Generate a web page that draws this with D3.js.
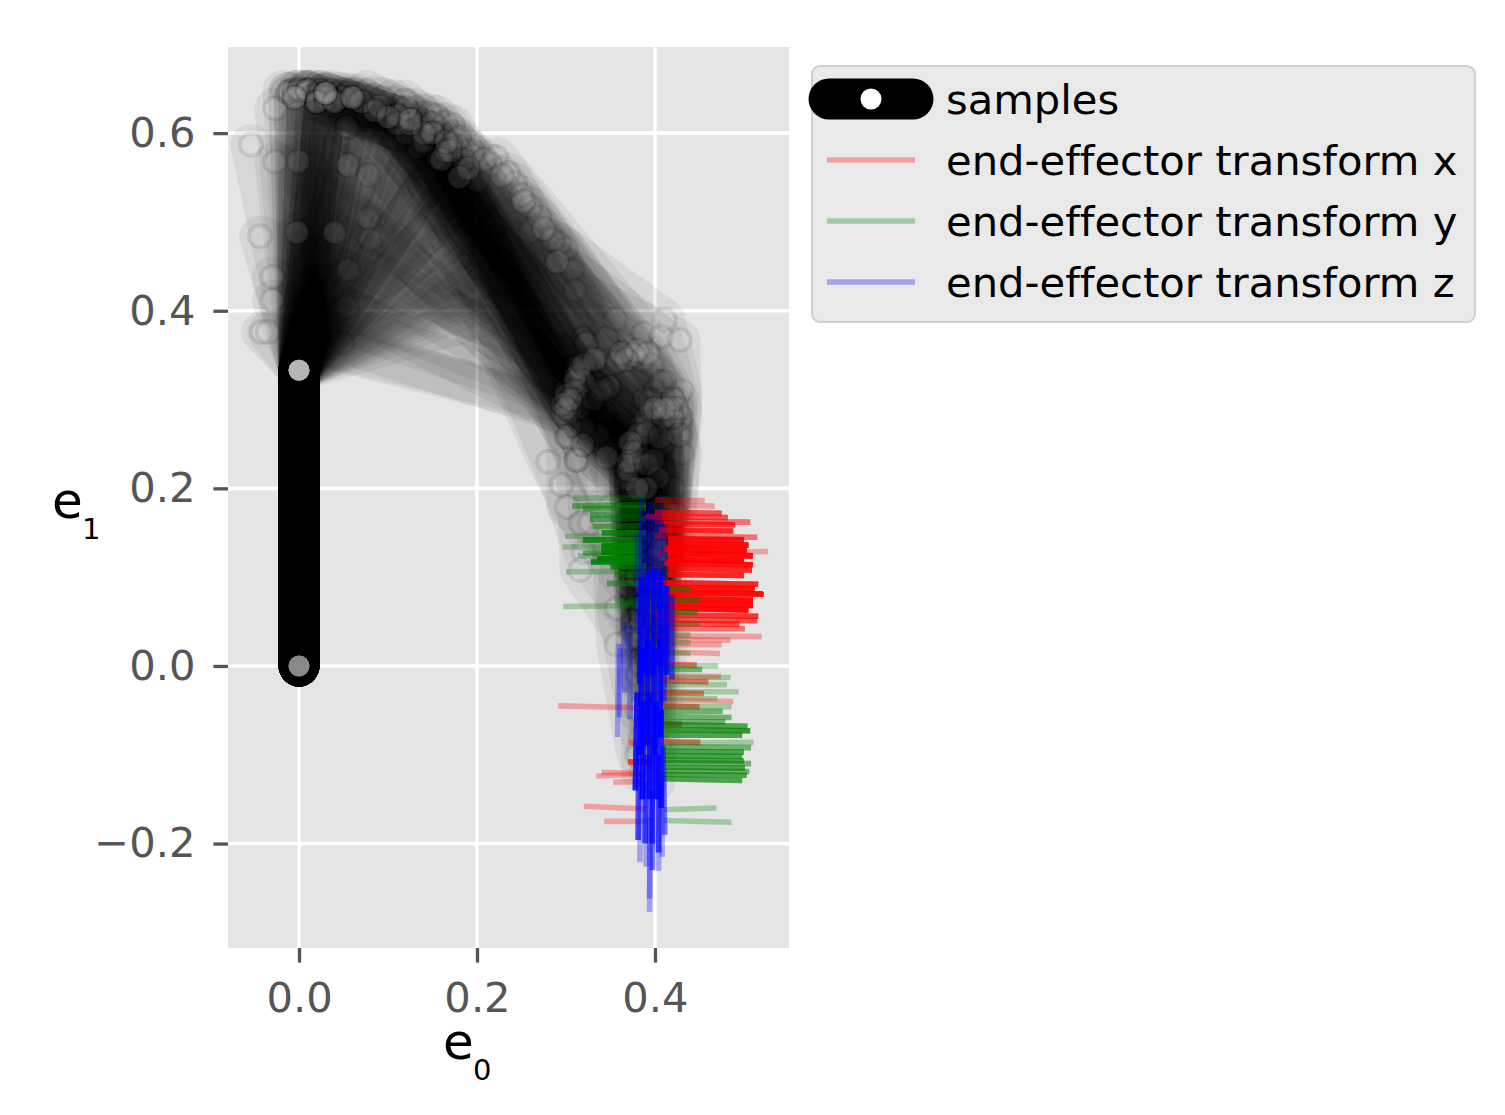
<!DOCTYPE html>
<html><head><meta charset="utf-8">
<script src="https://cdn.jsdelivr.net/npm/d3@7/dist/d3.min.js"></script>
<style>html,body{margin:0;background:#fff}svg{display:block}text{font-family:"DejaVu Sans";font-variant-ligatures:none}</style>
</head><body><svg id="c" width="1505" height="1115"></svg>
<script>
// arm rows: elbowX, elbowY, wristX, wristY, knuckleX, knuckleY, handX, handY, repeats, optional offsetElbowX, offsetElbowY
const topRows=[
[-.018,.648,.310,.337,.385,.29,.39,.16,1,.07,.615],[-.012,.646,.316,.322,.39,.27,.395,.14,2,.075,.62],[-.005,.648,.301,.296,.375,.25,.385,.12,1,.085,.62],
[0,.649,.319,.370,.40,.31,.40,.17,2,.09,.625],[.004,.647,.323,.364,.395,.30,.405,.15,1,.095,.62],[.009,.648,.305,.287,.38,.23,.39,.09,2,.10,.615],
[.015,.649,.330,.294,.40,.24,.40,.11,1,.105,.615],[.024,.648,.349,.314,.41,.25,.41,.13,2,.11,.62],[.030,.647,.338,.262,.395,.20,.385,.07,1,.115,.61],
[.037,.648,.344,.285,.40,.22,.40,.08,1,.12,.61],[.046,.646,.357,.342,.42,.27,.41,.15,1,.13,.615],[.055,.645,.310,.337,.38,.27,.39,.13,1,.135,.61],
[.063,.644,.316,.322,.385,.26,.395,.10,1,.14,.605],[.076,.648,.301,.296,.37,.23,.385,.06,1,.15,.61],[.084,.642,.305,.287,.375,.22,.39,.03,1,.155,.60],
[.094,.640,.319,.249,.385,.18,.395,0,1,.16,.60],[.105,.638,.302,.258,.375,.20,.39,.05,1,.165,.595],[.119,.637,.312,.232,.38,.17,.385,-.02,1,.17,.59],
[.130,.628,.330,.294,.395,.23,.40,.04,1,.18,.585],[.139,.622,.338,.262,.40,.19,.405,-.03,1,.19,.58],[.147,.622,.344,.285,.405,.21,.40,.02,1,.195,.575],
[.155,.620,.310,.337,.385,.28,.395,.12,1],[.165,.612,.323,.364,.395,.30,.40,.14,1],[.173,.609,.349,.314,.41,.25,.405,.09,1],
[.177,.592,.357,.342,.42,.28,.41,.11,1]];
const arcRows=[
[.200,.547,.389,.300,.41,.22,.40,-.05,1],[.222,.573,.387,.375,.425,.30,.41,.16,1],[.243,.544,.397,.339,.425,.26,.405,.12,1],
[.260,.517,.406,.320,.43,.24,.41,.08,1],[.260,.489,.396,.286,.42,.20,.40,.03,1],[.293,.476,.411,.390,.43,.31,.415,.17,1],
[.307,.446,.407,.371,.43,.29,.41,.14,1],[.310,.423,.428,.367,.43,.28,.41,.13,1],[.300,.470,.355,.390,.41,.32,.405,.18,1],
[.215,.565,.346,.369,.41,.30,.40,.15,1],[.235,.555,.391,.262,.41,.18,.39,-.02,1],[.250,.530,.406,.257,.42,.17,.40,-.06,1],
[.270,.505,.428,.260,.425,.17,.405,-.09,1],[.285,.480,.398,.232,.41,.15,.395,-.07,1],[.195,.580,.403,.212,.41,.13,.39,-.10,1],
[.208,.570,.391,.227,.40,.14,.385,-.08,1],[.150,.611,.386,.345,.42,.28,.405,.13,1],[.180,.595,.376,.350,.415,.29,.40,.12,1],
[.228,.552,.368,.345,.41,.28,.395,.10,1],[.275,.492,.392,.352,.425,.29,.41,.11,1],[.290,.455,.380,.355,.42,.30,.405,.09,1],
[.252,.523,.362,.352,.41,.29,.40,.07,1],[.120,.628,.332,.345,.40,.29,.39,.09,1]];
const bandRows=[
[.01,.648,.306,.30,.375,.24,.39,.08,2,.054,.607],[.03,.640,.312,.296,.38,.23,.385,.04,2,.134,.584],[.05,.64,.320,.27,.385,.20,.39,.01,2,.155,.572],
[.02,.635,.304,.300,.375,.23,.385,.05,3,.120,.600],[.04,.635,.315,.290,.38,.22,.395,.02,3,.140,.590],[-.005,.64,.300,.310,.37,.25,.38,.07,2,.110,.610],
[.07,.635,.330,.300,.39,.23,.40,.06,2,.165,.580],[.06,.64,.320,.320,.385,.26,.395,.11,3,.150,.600],[.03,.645,.310,.320,.38,.26,.39,.10,3,.125,.615],
[.09,.63,.340,.310,.40,.24,.40,.10,1,.185,.570]];
const innerRows=[
[-.001,.568,.301,.296,.37,.23,.385,.06,1],[.055,.564,.305,.287,.375,.22,.39,.02,1],[.078,.553,.31,.30,.38,.23,.395,.04,1],
[-.027,.568,.312,.31,.38,.25,.39,.10,1],[.078,.504,.304,.27,.375,.20,.385,0,1],[.08,.48,.30,.29,.37,.22,.38,.03,1],
[-.002,.488,.315,.33,.39,.27,.395,.13,1],[.04,.488,.31,.31,.38,.25,.39,.09,1],[.055,.446,.306,.30,.375,.24,.39,.07,1],
[.054,.404,.30,.28,.37,.21,.385,.01,1],[.049,.364,.296,.285,.37,.22,.38,-.01,1],[-.027,.628,.31,.325,.385,.27,.39,.12,1],
[-.054,.587,.315,.335,.39,.28,.395,.14,1],[-.044,.484,.32,.34,.395,.29,.40,.16,1],[-.03,.438,.30,.305,.375,.24,.385,.06,1],
[-.03,.412,.305,.30,.38,.24,.39,.08,1],[-.042,.376,.30,.29,.375,.23,.385,.05,1],[-.035,.376,.296,.295,.37,.23,.38,.04,1]];
const lowRows=[
[.110,.620,.280,.230,.316,.161,.37,.09,1],[.125,.610,.295,.204,.320,.128,.375,.05,1],[.140,.600,.312,.232,.316,.108,.37,.03,1],
[.085,.625,.301,.258,.301,.179,.375,.12,1],[.10,.618,.319,.249,.327,.161,.38,.10,1],[.17,.58,.346,.235,.374,.144,.39,.07,1],
[.16,.57,.372,.252,.357,.065,.38,-.05,1],[.18,.55,.35,.18,.357,.024,.38,-.10,1],[.19,.56,.39,.20,.40,.05,.40,-.13,1],
[.165,.59,.38,.20,.385,.03,.385,-.12,1]];
// coordinate-frame rows: fromX, fromY, tipX, tipY, repeats
const redRows=[
[.40,.187,.456,.186,1],[.41,.181,.467,.180,1],[.40,.173,.475,.172,3],[.39,.168,.482,.167,3],[.40,.163,.507,.162,2],[.41,.160,.49,.159,4],
[.405,.153,.488,.152,5],[.40,.146,.515,.145,2],[.415,.143,.50,.142,7],[.415,.137,.505,.136,8],[.41,.132,.503,.130,8],[.40,.126,.527,.129,1],
[.415,.127,.51,.124,8],[.415,.120,.50,.118,8],[.41,.116,.51,.114,7],[.415,.110,.509,.108,5],[.415,.103,.50,.102,5],[.40,.094,.516,.092,5],
[.415,.088,.512,.087,7],[.415,.082,.522,.081,8],[.41,.076,.51,.074,8],[.415,.070,.51,.068,8],[.415,.065,.505,.063,8],[.40,.058,.516,.056,4],
[.41,.052,.515,.051,3],[.405,.048,.495,.047,3],[.41,.042,.501,.042,2],[.40,.034,.52,.033,1],[.41,.030,.485,.029,1],[.41,.024,.475,.024,1],
[.41,.016,.473,.014,1],[.405,.002,.447,.001,2],[.40,-.011,.474,-.012,1],[.41,-.017,.46,-.018,2],[.405,-.038,.488,-.040,1],[.40,-.030,.455,-.031,2],
[.41,-.045,.45,-.046,2],[.41,-.065,.43,-.066,3],[.41,-.085,.451,-.086,2],[.38,-.047,.291,-.045,1],[.385,-.122,.334,-.124,1],[.39,-.121,.34,-.120,1],
[.385,-.130,.353,-.131,1],[.39,-.161,.320,-.158,1],[.39,-.175,.343,-.175,1],[.395,-.108,.37,-.108,3],[.39,-.085,.37,-.086,1]];
const greenRows=[
[.39,.189,.308,.189,1],[.39,.182,.307,.180,2],[.39,.178,.319,.177,2],[.385,.172,.327,.170,2],[.39,.166,.327,.165,2],[.385,.158,.33,.157,2],
[.39,.150,.34,.15,4],[.39,.146,.299,.146,1],[.385,.142,.319,.142,5],[.385,.136,.34,.135,8],[.39,.134,.296,.134,1],[.385,.130,.34,.128,9],
[.385,.128,.319,.127,2],[.39,.124,.313,.124,1],[.385,.122,.335,.120,9],[.385,.118,.328,.117,6],[.39,.113,.35,.112,4],[.39,.107,.30,.106,1],
[.385,.103,.355,.103,2],[.385,.093,.346,.093,2],[.39,.075,.355,.074,1],[.385,.068,.297,.067,1],[.39,.071,.36,.070,1],
[.40,.087,.44,.086,2],[.40,.075,.45,.074,2],[.40,.062,.448,.06,2],[.40,.048,.45,.047,1],[.405,.035,.44,.035,1],[.41,.027,.44,.026,1],[.405,.015,.44,.014,1],
[.40,0,.471,0,1],[.40,-.004,.453,-.004,2],[.405,-.013,.485,-.013,1],[.40,-.021,.481,-.021,1],[.405,-.029,.494,-.029,1],[.40,-.036,.47,-.037,1],
[.405,-.046,.486,-.046,1],[.405,-.051,.476,-.051,2],[.405,-.057,.486,-.058,2],[.405,-.063,.479,-.063,2],[.41,-.066,.504,-.068,3],[.41,-.072,.507,-.073,4],
[.41,-.078,.498,-.078,3],[.41,-.087,.511,-.086,1],[.41,-.091,.508,-.092,2],[.41,-.096,.50,-.097,3],[.41,-.101,.498,-.102,3],[.41,-.106,.50,-.107,3],
[.41,-.109,.508,-.110,2],[.41,-.114,.501,-.115,3],[.41,-.118,.506,-.119,2],[.41,-.122,.503,-.123,3],[.41,-.127,.498,-.129,3],[.41,-.162,.469,-.160,1],[.41,-.174,.486,-.176,1]];
const blueRows=[
[.385,.19,.385,.09,1],[.395,.185,.395,.08,1],[.405,.18,.405,.085,1],[.39,.175,.39,.06,1],[.40,.17,.40,.07,1],[.385,.165,.385,.05,1],[.41,.16,.41,.05,1],[.38,.15,.38,.04,1],
[.385,.10,.383,-.02,5],[.392,.105,.39,-.01,5],[.399,.11,.398,-.01,5],[.406,.105,.406,0,5],[.413,.09,.413,-.01,4],[.419,.08,.419,-.015,2],
[.385,.02,.384,-.10,5],[.392,.03,.391,-.09,5],[.399,.02,.399,-.10,5],[.406,.03,.406,-.08,5],[.412,.05,.41,-.04,2],
[.38,-.03,.378,-.14,5],[.387,-.04,.386,-.15,5],[.394,-.03,.394,-.15,5],[.401,-.04,.401,-.15,5],[.407,-.05,.407,-.16,4],
[.382,-.09,.381,-.196,3],[.39,-.10,.389,-.20,3],[.397,-.10,.397,-.20,3],[.404,-.10,.404,-.21,3],[.409,-.09,.411,-.19,2],
[.384,-.12,.383,-.221,1],[.39,-.13,.39,-.226,1],[.397,-.14,.397,-.23,2],[.405,-.13,.404,-.231,1],[.408,-.12,.408,-.215,1],[.395,-.15,.394,-.262,1],[.394,-.17,.394,-.277,1],
[.361,.02,.36,-.058,1],[.359,.025,.358,-.08,1],[.365,.05,.366,-.03,1],[.372,.045,.372,-.06,1]];
const baseJoints=[[0,0],[0,.333],[0,.333]];
const xTicks=[0,.2,.4], yTicks=[-.2,0,.2,.4,.6];
const legendLabels=["samples","end-effector transform x","end-effector transform y","end-effector transform z"];
const frameColors=["#ff0000","#008000","#0000ff"];

const x=d3.scaleLinear().domain([-.0798,.5506]).range([228,789]);
const y=d3.scaleLinear().domain([.697,-.3176]).range([47,948]);
const svg=d3.select("#c");
svg.append("rect").attr("x",228).attr("y",47).attr("width",561).attr("height",901).attr("fill","#e5e5e5");
const grid=svg.append("g");
grid.selectAll(".gx").data(xTicks).join("line").attr("x1",d=>x(d)).attr("x2",d=>x(d)).attr("y1",47).attr("y2",948).attr("stroke","#fff").attr("stroke-width",3.6);
grid.selectAll(".gy").data(yTicks).join("line").attr("y1",d=>y(d)).attr("y2",d=>y(d)).attr("x1",228).attr("x2",789).attr("stroke","#fff").attr("stroke-width",3.6);

const expand=rows=>rows.flatMap(r=>d3.range(r[4]).map(()=>r));
const armRepeat=rows=>rows.flatMap(r=>d3.range(r[8]).map(()=>r));
const arms=armRepeat([...topRows,...bandRows,...innerRows,...arcRows,...lowRows]);
const line=d3.line().x(d=>x(d[0])).y(d=>y(d[1]));
const armG=svg.append("g");
arms.forEach(r=>{
  const pts=[...baseJoints,[r[0],r[1]]];
  if(r.length>9) pts.push([r[9],r[10]]);
  pts.push([r[2],r[3]],[r[4],r[5]],[r[6],r[7]]);
  const g=armG.append("g");
  g.append("path").attr("d",line(pts)).attr("fill","none").attr("stroke","#000").attr("stroke-opacity",.06)
   .attr("stroke-width",41).attr("stroke-linejoin","round").attr("stroke-linecap","round");
  g.selectAll("circle").data(pts).join("circle").attr("cx",d=>x(d[0])).attr("cy",d=>y(d[1]))
   .attr("r",(d,i)=>i<3?10.5:11)
   .attr("fill","#fff").attr("fill-opacity",(d,i)=>i<3?.07:.12)
   .attr("stroke","#000").attr("stroke-opacity",(d,i)=>i<3?0:.09).attr("stroke-width",4);
});
[redRows,greenRows,blueRows].forEach((rows,i)=>{
  svg.append("g").selectAll("line").data(expand(rows)).join("line")
    .attr("x1",d=>x(d[0])).attr("y1",d=>y(d[1])).attr("x2",d=>x(d[2])).attr("y2",d=>y(d[3]))
    .attr("stroke",frameColors[i]).attr("stroke-opacity",.3).attr("stroke-width",5.6);
});

const ax=svg.append("g").attr("transform","translate(0,948)").call(d3.axisBottom(x).tickValues(xTicks).tickFormat(d3.format(".1f")).tickSize(14.6).tickPadding(20));
const ay=svg.append("g").attr("transform","translate(228,0)").call(d3.axisLeft(y).tickValues(yTicks).tickFormat(d3.format(".1f")).tickSize(14.6).tickPadding(18));
[ax,ay].forEach(a=>{a.select(".domain").remove();a.selectAll("line").attr("stroke","#555").attr("stroke-width",3.3);
  a.selectAll("text").attr("fill","#555").style("font-size","41.67px").style("font-family","DejaVu Sans");});

function sub(tx,ty,base,s,dx,dy){
  svg.append("text").attr("x",tx).attr("y",ty).style("font-size","50px").attr("fill","#000").text(base);
  svg.append("text").attr("x",tx+dx).attr("y",ty+dy).style("font-size","29px").attr("fill","#000").text(s);
}
sub(443,1059,"e","0",30,21);
sub(52,518,"e","1",30,21);

const lg=svg.append("g");
lg.append("rect").attr("x",812).attr("y",66).attr("width",663).attr("height",256).attr("rx",8)
  .attr("fill","#e9e9e9").attr("stroke","#cfcfcf").attr("stroke-width",2);
lg.append("line").attr("x1",829).attr("x2",913).attr("y1",99).attr("y2",99).attr("stroke","#000").attr("stroke-width",41).attr("stroke-linecap","round");
lg.append("circle").attr("cx",871).attr("cy",99).attr("r",10.5).attr("fill","#fff");
frameColors.forEach((c,i)=>lg.append("line").attr("x1",827).attr("x2",915).attr("y1",160+61*i).attr("y2",160+61*i).attr("stroke",c).attr("stroke-opacity",.3).attr("stroke-width",5.6));
lg.selectAll("text").data(legendLabels).join("text").attr("x",946).attr("y",(d,i)=>114+61*i).style("font-size","41.67px").attr("fill","#000").text(d=>d);
</script></body></html>
